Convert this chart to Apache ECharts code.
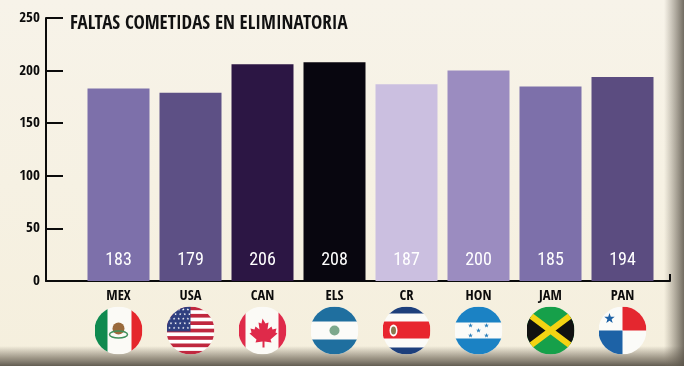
<!DOCTYPE html>
<html>
<head>
<meta charset="utf-8">
<style>
  html, body { margin: 0; padding: 0; background: #f7f2e8; }
  #chart { width: 684px; height: 366px; }
</style>
<script src="https://cdn.jsdelivr.net/npm/echarts@6/dist/echarts.min.js"></script>
</head>
<body>
<div id="chart"></div>
<script>
const categories = ['MEX', 'USA', 'CAN', 'ELS', 'CR', 'HON', 'JAM', 'PAN'];
const faltas = [183, 179, 206, 208, 187, 200, 185, 194];
const barColors = ['#7d70aa', '#5d5085', '#2c1644', '#08060f', '#cbbfe0', '#9b8cc0', '#7d70aa', '#5b4c80'];
const FONT = '"Open Sans Condensed", "Roboto Condensed", sans-serif';

// flags as small svgs, used as label backgrounds
const svgFlag = inner =>
  'data:image/svg+xml;charset=utf-8,' + encodeURIComponent(
    '<svg xmlns="http://www.w3.org/2000/svg" width="96" height="96" viewBox="0 0 48 48">' +
    '<defs><clipPath id="c"><circle cx="24" cy="24" r="24"/></clipPath></defs>' +
    '<g clip-path="url(#c)">' + inner + '</g></svg>');

const star = (x, y, r, fill) => {
  let pts = [];
  for (let i = 0; i < 10; i++) {
    const a = -Math.PI / 2 + i * Math.PI / 5;
    const rr = i % 2 ? r * 0.4 : r;
    pts.push((x + rr * Math.cos(a)).toFixed(2) + ',' + (y + rr * Math.sin(a)).toFixed(2));
  }
  return '<polygon points="' + pts.join(' ') + '" fill="' + fill + '"/>';
};

const usStripes = [0, 1, 2, 3, 4, 5, 6].map(i =>
  '<rect y="' + (i * 7.4) + '" width="48" height="3.7" fill="#c0283f"/>').join('');
let usStars = '';
for (let r = 0; r < 5; r++) for (let c = 0; c < 5; c++) usStars += star(3 + c * 4.6 + (r % 2) * 1.5, 3 + r * 4.6, 1.4, '#fff');

const flags = {
  MEX: svgFlag('<rect width="48" height="48" fill="#fbfaf6"/><rect width="13" height="48" fill="#0f8a4f"/><rect x="37" width="11" height="48" fill="#e5262c"/>' +
    '<ellipse cx="24" cy="22" rx="6" ry="6" fill="#9a6a3c"/><ellipse cx="24" cy="28" rx="9" ry="3.5" fill="none" stroke="#3f8f5a" stroke-width="1.5"/>'),
  USA: svgFlag('<rect width="48" height="48" fill="#fff"/>' + usStripes + '<rect width="24" height="25" fill="#2f3f7f"/>' + usStars),
  CAN: svgFlag('<rect width="48" height="48" fill="#fbfaf6"/><rect width="7" height="48" fill="#df2a4a"/><rect x="40" width="8" height="48" fill="#df2a4a"/>' +
    '<path d="M24 12l3 5 3-1-1 7 4-3 1 3 4-1-1 4 2 1-7 6 1 3-7-1v6h-2v-6l-7 1 1-3-7-6 2-1-1-4 4 1 1-3 4 3-1-7 3 1z" fill="#df2a4a"/>'),
  ELS: svgFlag('<rect width="48" height="48" fill="#fbfbf8"/><rect width="48" height="15" fill="#1f6f9f"/><rect y="33" width="48" height="15" fill="#1f6f9f"/>' +
    '<circle cx="24" cy="24" r="5" fill="#7da88c"/>'),
  CR: svgFlag('<rect width="48" height="48" fill="#fbfbf8"/><rect width="48" height="7" fill="#1d3f7c"/><rect y="41" width="48" height="7" fill="#1d3f7c"/>' +
    '<rect y="15" width="48" height="17" fill="#e8252e"/><ellipse cx="11" cy="24" rx="4" ry="6" fill="#fff"/><ellipse cx="11" cy="24" rx="2.5" ry="4" fill="#8a7a50"/>'),
  HON: svgFlag('<rect width="48" height="48" fill="#fbfbf8"/><rect width="48" height="16" fill="#1b82c4"/><rect y="32" width="48" height="16" fill="#1b82c4"/>' +
    star(16, 19, 2.6, '#2a7fbb') + star(32, 19, 2.6, '#2a7fbb') + star(24, 24, 2.6, '#2a7fbb') + star(16, 29, 2.6, '#2a7fbb') + star(32, 29, 2.6, '#2a7fbb')),
  JAM: svgFlag('<rect width="48" height="48" fill="#16a04a"/><path d="M0 8L24 24L0 40Z" fill="#111"/><path d="M48 8L24 24L48 40Z" fill="#111"/>' +
    '<path d="M0 6L48 42M48 6L0 42" stroke="#f4d313" stroke-width="6"/>'),
  PAN: svgFlag('<rect width="48" height="48" fill="#fbfbf8"/><rect x="24" width="24" height="24" fill="#e4272f"/><rect y="24" width="24" height="24" fill="#1d62a6"/>' +
    star(11, 12, 5.5, '#1d62a6'))
};

const rich = {
  name: { fontFamily: FONT, fontWeight: 'bold', fontSize: 14.5, color: '#0b0b0b', lineHeight: 17, align: 'center' }
};
categories.forEach(c => {
  rich['flag' + c] = { width: 48, height: 48, lineHeight: 51, align: 'center', backgroundColor: { image: flags[c] } };
});

const chart = echarts.init(document.getElementById('chart'), null, { renderer: 'canvas' });

chart.setOption({
  animation: false,
  backgroundColor: new echarts.graphic.LinearGradient(0, 0, 0, 1, [
    { offset: 0, color: '#f7f3e9' },
    { offset: 1, color: '#f5efdd' }
  ]),
  title: {
    text: 'FALTAS COMETIDAS EN ELIMINATORIA',
    left: 65,
    top: 10,
    textStyle: { fontFamily: FONT, fontWeight: 'bold', fontSize: 19, color: '#111' }
  },
  grid: [
    { left: 46, top: 18, width: 624, height: 263, containLabel: false },
    { left: 82.5, top: 18, width: 576, height: 263, containLabel: false }
  ],
  xAxis: [
    {
      // only carries the long baseline and its end tick
      type: 'value', gridIndex: 0, min: 0, max: 1, interval: 1,
      axisLine: { show: true, lineStyle: { color: '#0b0b0b', width: 2 } },
      axisTick: { show: true, inside: true, length: 7, lineStyle: { color: '#0b0b0b', width: 2 } },
      axisLabel: { show: false },
      splitLine: { show: false }
    },
    {
      type: 'category', gridIndex: 1, data: categories,
      axisLine: { show: false },
      axisTick: { show: false },
      axisLabel: {
        margin: 7,
        interval: 0,
        formatter: v => '{name|' + v + '}\n{flag' + v + '|}',
        rich: rich
      }
    }
  ],
  yAxis: [
    {
      type: 'value', gridIndex: 0, min: 0, max: 250, interval: 50,
      axisLine: { show: true, lineStyle: { color: '#0b0b0b', width: 2 } },
      axisTick: { show: true, inside: true, length: 17, lineStyle: { color: '#0b0b0b', width: 2 } },
      axisLabel: { margin: 6, fontFamily: FONT, fontWeight: 'bold', fontSize: 15, color: '#0b0b0b' },
      splitLine: { show: false }
    },
    { type: 'value', gridIndex: 1, min: 0, max: 250, show: false }
  ],
  series: [{
    type: 'bar',
    xAxisIndex: 1,
    yAxisIndex: 1,
    barWidth: 62,
    data: faltas.map((v, i) => ({ value: v, itemStyle: { color: barColors[i] } })),
    label: {
      show: true,
      position: 'insideBottom',
      distance: 12,
      fontFamily: '"Roboto Condensed", sans-serif',
      fontSize: 18,
      color: '#fff'
    }
  }],
  graphic: [
    // photographed page edge, shadow along the bottom and right
    {
      type: 'rect', silent: true, z: -1,
      shape: { x: 0, y: 346, width: 684, height: 20 },
      style: { fill: new echarts.graphic.LinearGradient(0, 0, 0, 1, [
        { offset: 0, color: 'rgba(120,112,98,0)' },
        { offset: 0.6, color: 'rgba(120,112,98,0.7)' },
        { offset: 1, color: 'rgba(90,84,74,0.95)' }
      ]) }
    },
    {
      type: 'rect', silent: true, z: -1,
      shape: { x: 664, y: 0, width: 20, height: 366 },
      style: { fill: new echarts.graphic.LinearGradient(0, 0, 1, 0, [
        { offset: 0, color: 'rgba(120,112,98,0)' },
        { offset: 1, color: 'rgba(90,84,74,0.85)' }
      ]) }
    }
  ]
});
</script>
</body>
</html>
